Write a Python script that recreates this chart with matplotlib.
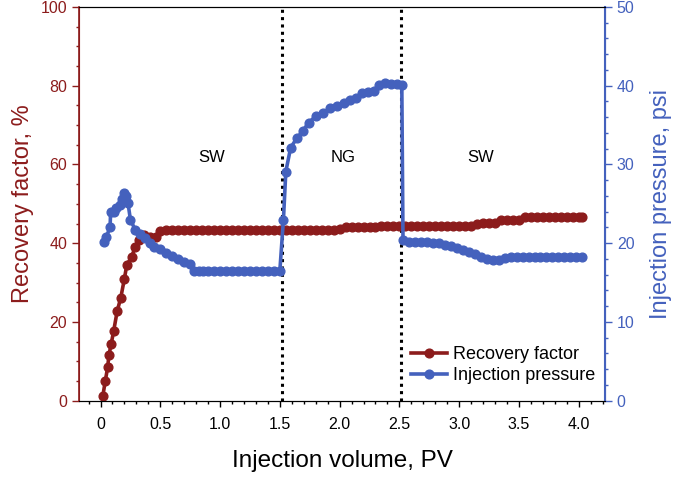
import numpy as np
import matplotlib.pyplot as plt
from matplotlib.ticker import MultipleLocator

plt.rcParams['font.family'] = ['Liberation Sans', 'DejaVu Sans']

#Recovery factor (%) vs injection volume (PV)
rf_pv = [0.02, 0.04, 0.06, 0.07, 0.09, 0.11, 0.14, 0.17, 0.20, 0.22, 0.26, 0.29, 0.32, 0.36, 0.41, 0.46,
         0.50, 0.55, 0.60, 0.65, 0.70, 0.75, 0.80, 0.85, 0.90, 0.95, 1.00, 1.05, 1.10, 1.15, 1.20, 1.25,
         1.30, 1.35, 1.40, 1.45, 1.50, 1.55, 1.60, 1.65, 1.70, 1.75, 1.80, 1.85, 1.90, 1.95, 2.00,
         2.05, 2.10, 2.15, 2.20, 2.25, 2.30, 2.35, 2.40, 2.45, 2.50, 2.55, 2.60, 2.65, 2.70, 2.75,
         2.80, 2.85, 2.90, 2.95, 3.00, 3.05, 3.10, 3.15, 3.20, 3.25, 3.30, 3.35, 3.40, 3.45, 3.50,
         3.55, 3.60, 3.65, 3.70, 3.75, 3.80, 3.85, 3.90, 3.95, 4.00, 4.03]
rf_val = [1.3, 5.0, 8.5, 11.5, 14.5, 17.7, 22.8, 26.2, 31.0, 34.5, 36.5, 39.0, 40.8, 42.0, 41.6, 41.6,
          43.2, 43.4, 43.4, 43.4, 43.4, 43.4, 43.4, 43.4, 43.4, 43.4, 43.4, 43.4, 43.4, 43.4, 43.4, 43.4,
          43.4, 43.4, 43.4, 43.4, 43.4, 43.4, 43.4, 43.4, 43.4, 43.4, 43.4, 43.4, 43.4, 43.4, 43.5,
          44.2, 44.2, 44.2, 44.2, 44.2, 44.2, 44.3, 44.3, 44.3, 44.3, 44.3, 44.3, 44.3, 44.3, 44.3,
          44.3, 44.3, 44.3, 44.3, 44.3, 44.3, 44.3, 45.0, 45.1, 45.1, 45.2, 45.8, 45.9, 45.9, 46.0,
          46.7, 46.7, 46.7, 46.7, 46.7, 46.7, 46.7, 46.7, 46.7, 46.7, 46.7]

#Injection pressure (psi) vs injection volume (PV)
ip_pv = [0.03, 0.05, 0.08, 0.085, 0.11, 0.13, 0.16, 0.18, 0.20, 0.21, 0.23, 0.25, 0.29, 0.33, 0.37,
         0.41, 0.45, 0.50, 0.55, 0.60, 0.65, 0.70, 0.75, 0.78, 0.82, 0.86, 0.90, 0.95, 1.00, 1.05, 1.10,
         1.15, 1.20, 1.25, 1.30, 1.35, 1.40, 1.45, 1.50, 1.53, 1.55, 1.59, 1.64, 1.69, 1.74, 1.80,
         1.86, 1.92, 1.98, 2.04, 2.09, 2.14, 2.19, 2.24, 2.29, 2.33, 2.38, 2.43, 2.48, 2.52, 2.53,
         2.58, 2.63, 2.68, 2.73, 2.78, 2.83, 2.88, 2.93, 2.98, 3.03, 3.08, 3.13, 3.18, 3.23, 3.28,
         3.33, 3.38, 3.43, 3.48, 3.53, 3.58, 3.63, 3.68, 3.73, 3.78, 3.83, 3.88, 3.93, 3.98, 4.03]
ip_val = [20.2, 20.8, 22.1, 24.0, 24.0, 24.5, 24.8, 25.6, 26.4, 26.0, 25.1, 23.0, 21.7, 21.2, 20.6,
          20.0, 19.5, 19.2, 18.7, 18.4, 18.0, 17.6, 17.3, 16.5, 16.5, 16.5, 16.5, 16.5, 16.5, 16.5, 16.5,
          16.5, 16.5, 16.5, 16.5, 16.5, 16.5, 16.5, 16.5, 23.0, 29.1, 32.1, 33.3, 34.2, 35.3, 36.1,
          36.5, 37.2, 37.4, 37.8, 38.2, 38.5, 39.1, 39.2, 39.3, 40.1, 40.3, 40.2, 40.2, 40.1, 20.4,
          20.2, 20.1, 20.1, 20.1, 20.0, 20.0, 19.8, 19.6, 19.4, 19.1, 18.9, 18.6, 18.3, 18.0, 17.9,
          17.9, 18.1, 18.2, 18.2, 18.2, 18.2, 18.2, 18.2, 18.2, 18.2, 18.2, 18.2, 18.2, 18.2, 18.2]

#Slug boundaries and slug names
switch_pv = [1.52, 2.51]
slug_names = ['SW', 'NG', 'SW']
slug_pv = [0.93, 2.03, 3.18]

red = '#8c1c1c'
blue = '#4461bd'

fig = plt.figure(figsize=(6.85, 4.79), dpi=100)
ax = fig.add_axes([0.1153, 0.1635, 0.768, 0.822])
ax2 = ax.twinx()

for s in switch_pv:
    ax.axvline(s, color='black', linestyle=(0, (1, 1.4)), linewidth=2.2, zorder=1)

l1, = ax.plot(rf_pv, rf_val, color=red, marker='o', markersize=6.3, linewidth=2.6, zorder=3)
l2, = ax2.plot(ip_pv, ip_val, color=blue, marker='o', markersize=6.3, linewidth=2.6, zorder=3)

for name, x in zip(slug_names, slug_pv):
    ax.text(x, 61.8, name, ha='center', va='center', fontsize=12)

ax.set_xlim(-0.18, 4.22)
ax.set_ylim(0, 100)
ax2.set_ylim(0, 50)

ax.xaxis.set_minor_locator(MultipleLocator(0.1))
ax.yaxis.set_major_locator(MultipleLocator(20))
ax.yaxis.set_minor_locator(MultipleLocator(5))
ax2.yaxis.set_major_locator(MultipleLocator(10))
ax2.yaxis.set_minor_locator(MultipleLocator(2))
ax.set_xticks([0, 0.5, 1.0, 1.5, 2.0, 2.5, 3.0, 3.5, 4.0])
ax.set_xticklabels(['0', '0.5', '1.0', '1.5', '2.0', '2.5', '3.0', '3.5', '4.0'])

ax.tick_params(axis='x', which='major', direction='out', length=4, width=1, labelsize=11.5, pad=8)
ax.tick_params(axis='x', which='minor', direction='out', length=2.5, width=1)
ax.tick_params(axis='y', which='major', direction='out', length=5, width=1, colors=red, labelsize=11.5)
ax.tick_params(axis='y', which='minor', direction='out', length=2.5, width=1, colors=red)
ax2.tick_params(axis='y', which='major', direction='out', length=5, width=1, colors=blue, labelsize=11.5)
ax2.tick_params(axis='y', which='minor', direction='out', length=2.5, width=1, colors=blue)

ax2.spines['left'].set_color(red)
ax2.spines['right'].set_color(blue)
ax2.spines['left'].set_linewidth(1.2)
ax2.spines['right'].set_linewidth(1.5)
ax.spines['left'].set_color(red)
ax.spines['right'].set_color(blue)
ax.spines['top'].set_linewidth(0.8)

ax.set_xlabel('Injection volume, PV', fontsize=17.5, labelpad=13)
ax.set_ylabel('Recovery factor, %', fontsize=17, color=red, labelpad=5)
ax2.set_ylabel('Injection pressure, psi', fontsize=17, color=blue, labelpad=11)

ax2.legend([l1, l2], ['Recovery factor', 'Injection pressure'], loc='lower right',
           bbox_to_anchor=(1.012, 0.0), frameon=False, fontsize=13, handlelength=2.0,
           handletextpad=0.3, labelspacing=0.25)

plt.savefig('out.png', dpi=100)
